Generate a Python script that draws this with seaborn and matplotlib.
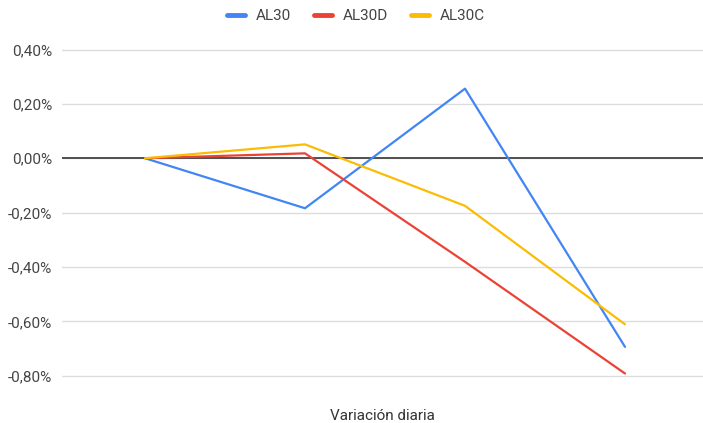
import pandas as pd
import seaborn as sns
import matplotlib.pyplot as plt
from matplotlib.ticker import FuncFormatter

# daily variation, %
days = [0, 1, 2, 3]
al30 = [0.0, -0.184, 0.256, -0.694]
al30d = [0.0, 0.018, -0.381, -0.792]
al30c = [0.0, 0.051, -0.175, -0.611]
series = ["AL30", "AL30D", "AL30C"]
colors = ["#4285F4", "#EA4335", "#FBBC04"]

df = pd.DataFrame({
    "dia": days * 3,
    "var": al30 + al30d + al30c,
    "bono": [s for s in series for _ in days],
})

sns.set_style("white")
plt.rcParams["font.family"] = ["Roboto", "DejaVu Sans"]

fig = plt.figure(figsize=(7.03, 4.23), dpi=100)
ax = fig.add_axes([62 / 703, 1 - 378.4 / 423, 641 / 703, (378.4 - 46.8) / 423])

sns.lineplot(data=df, x="dia", y="var", hue="bono", palette=colors,
             linewidth=1.6, ax=ax, legend=True)

ax.set_xlim(-(145 - 62) / 160, (703 - 145) / 160)
ax.set_ylim(-0.81, 0.41)
ax.set_yticks([0.4, 0.2, 0.0, -0.2, -0.4, -0.6, -0.8])
ax.yaxis.set_major_formatter(FuncFormatter(lambda v, p: f"{v:.2f}%".replace(".", ",")))
ax.set_xticks([])
ax.grid(axis="y", color="#dddddd", linewidth=1)
ax.axhline(0, color="#444444", linewidth=1.3, zorder=1)
for s in ax.spines.values():
    s.set_visible(False)
ax.tick_params(axis="y", length=0, pad=7, labelsize=11, labelcolor="#444444")
ax.set_ylabel("")
ax.set_xlabel("Variación diaria", fontsize=11, color="#333333", labelpad=22)

handles, labels = ax.get_legend_handles_labels()
ax.get_legend().remove()
for h in handles:
    h.set_linewidth(3.5)
fig.legend(handles, labels, loc="center", bbox_to_anchor=(356 / 703, 1 - 16 / 423),
           ncol=3, frameon=False, fontsize=11, handlelength=1.2,
           handletextpad=0.7, columnspacing=1.5, labelcolor="#444444")

plt.savefig("out.png")
